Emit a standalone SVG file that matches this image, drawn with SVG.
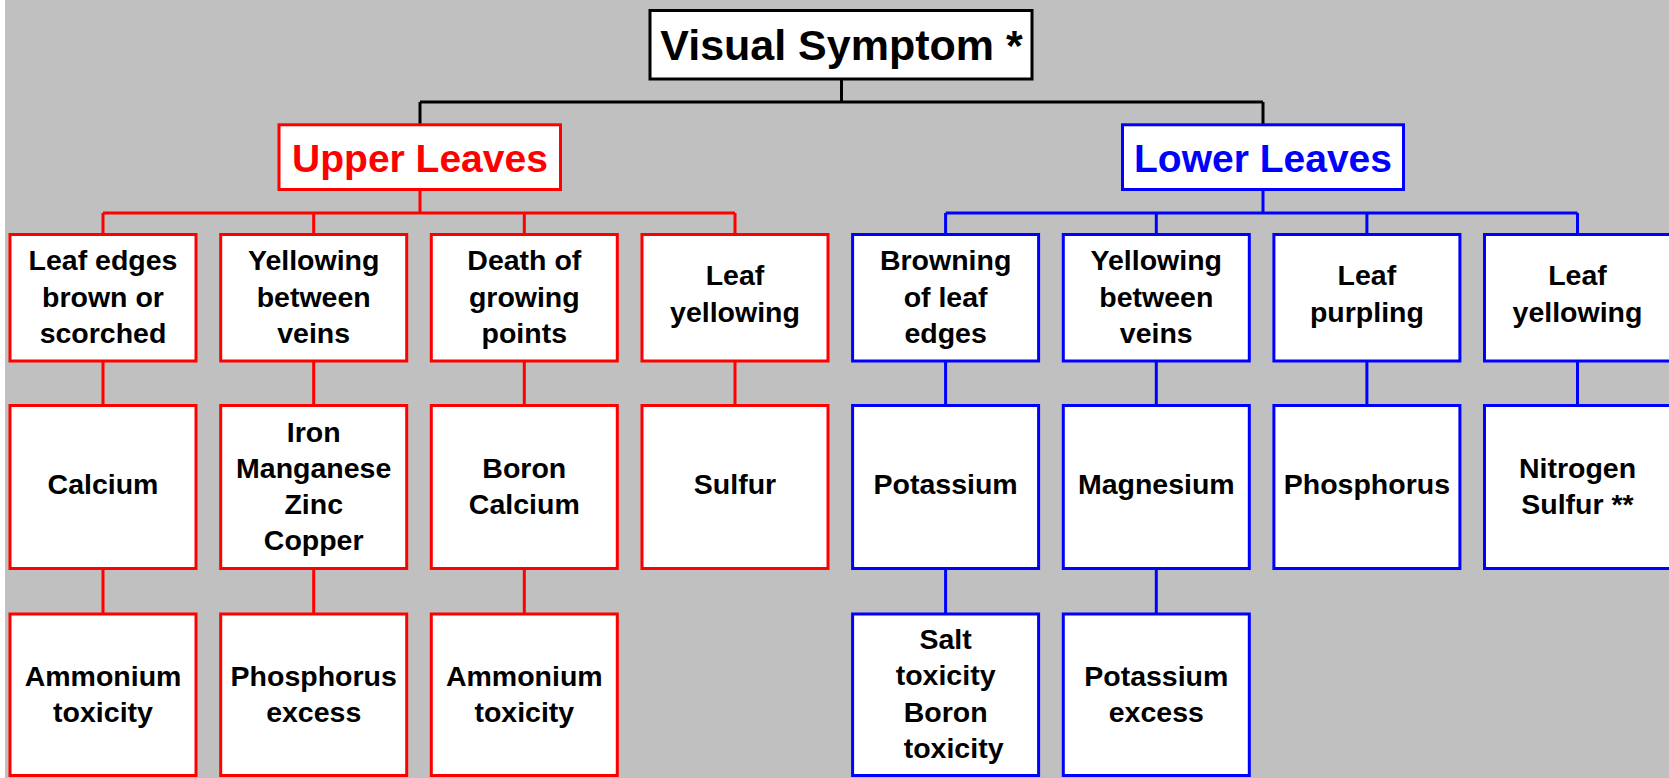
<svg xmlns="http://www.w3.org/2000/svg" width="1669" height="778" viewBox="0 0 1669 778">
<style>
.box{fill:#fff;stroke-width:3}
.r{stroke:#FF0000}
.b{stroke:#0000FF}
.k{stroke:#000}
.t{font-family:"Liberation Sans",Arial,sans-serif;font-weight:bold;font-size:28.5px;fill:#000;text-anchor:middle}
.big{font-family:"Liberation Sans",Arial,sans-serif;font-weight:bold;text-anchor:middle}
.ln{fill:none;stroke-width:3}
</style>
<rect x="0" y="0" width="1669" height="778" fill="#fff"/>
<rect x="5" y="0" width="1664" height="778" fill="#C0C0C0"/>
<g id="connectors">
<path class="ln k" d="M841.5 80V102M420 102H1263M420 102V124M1263 102V124"/>
<path class="ln r" d="M420 191V213M103 213H735M103 213V234M313.7 213V234M524.3 213V234M735 213V234"/>
<path class="ln r" d="M103 362V405M313.7 362V405M524.3 362V405M735 362V405M103 569V613M313.7 569V613M524.3 569V613"/>
<path class="ln b" d="M1263 191V213M945.6 213H1577.5M945.6 213V234M1156.3 213V234M1366.9 213V234M1577.5 213V234"/>
<path class="ln b" d="M945.6 362V405M1156.3 362V405M1366.9 362V405M1577.5 362V405M945.6 569V613M1156.3 569V613"/>
</g>
<g id="visual-symptom">
<rect class="box k" x="650" y="10.5" width="382" height="68.5"/>
<text class="big" x="841.5" y="60" font-size="43">Visual Symptom *</text>
</g>
<g id="upper-leaves">
<rect class="box r" x="279" y="124.8" width="281.5" height="64.7"/>
<text class="big" x="420" y="171.5" font-size="39" fill="#FF0000">Upper Leaves</text>
</g>
<g id="lower-leaves">
<rect class="box b" x="1122.5" y="124.8" width="281" height="64.7"/>
<text class="big" x="1263" y="171.5" font-size="39" fill="#0000FF">Lower Leaves</text>
</g>
<g id="u1">
<rect class="box r" x="10" y="234.5" width="186" height="126.5"/>
<text class="t" x="103" y="270">Leaf edges</text><text class="t" x="103" y="306.5">brown or</text><text class="t" x="103" y="343">scorched</text>
</g>
<g id="u2">
<rect class="box r" x="220.7" y="234.5" width="186" height="126.5"/>
<text class="t" x="313.7" y="270">Yellowing</text><text class="t" x="313.7" y="306.5">between</text><text class="t" x="313.7" y="343">veins</text>
</g>
<g id="u3">
<rect class="box r" x="431.3" y="234.5" width="186" height="126.5"/>
<text class="t" x="524.3" y="270">Death of</text><text class="t" x="524.3" y="306.5">growing</text><text class="t" x="524.3" y="343">points</text>
</g>
<g id="u4">
<rect class="box r" x="642" y="234.5" width="186" height="126.5"/>
<text class="t" x="735" y="285">Leaf</text><text class="t" x="735" y="321.5">yellowing</text>
</g>
<g id="l1">
<rect class="box b" x="852.6" y="234.5" width="186" height="126.5"/>
<text class="t" x="945.6" y="270">Browning</text><text class="t" x="945.6" y="306.5">of leaf</text><text class="t" x="945.6" y="343">edges</text>
</g>
<g id="l2">
<rect class="box b" x="1063.3" y="234.5" width="186" height="126.5"/>
<text class="t" x="1156.3" y="270">Yellowing</text><text class="t" x="1156.3" y="306.5">between</text><text class="t" x="1156.3" y="343">veins</text>
</g>
<g id="l3">
<rect class="box b" x="1273.9" y="234.5" width="186" height="126.5"/>
<text class="t" x="1366.9" y="285">Leaf</text><text class="t" x="1366.9" y="321.5">purpling</text>
</g>
<g id="l4">
<rect class="box b" x="1484.5" y="234.5" width="186" height="126.5"/>
<text class="t" x="1577.5" y="285">Leaf</text><text class="t" x="1577.5" y="321.5">yellowing</text>
</g>
<g id="u1b">
<rect class="box r" x="10" y="405.5" width="186" height="163"/>
<text class="t" x="103" y="494">Calcium</text>
</g>
<g id="u2b">
<rect class="box r" x="220.7" y="405.5" width="186" height="163"/>
<text class="t" x="313.7" y="441.5">Iron</text><text class="t" x="313.7" y="477.5">Manganese</text><text class="t" x="313.7" y="514">Zinc</text><text class="t" x="313.7" y="550">Copper</text>
</g>
<g id="u3b">
<rect class="box r" x="431.3" y="405.5" width="186" height="163"/>
<text class="t" x="524.3" y="477.5">Boron</text><text class="t" x="524.3" y="514">Calcium</text>
</g>
<g id="u4b">
<rect class="box r" x="642" y="405.5" width="186" height="163"/>
<text class="t" x="735" y="494">Sulfur</text>
</g>
<g id="l1b">
<rect class="box b" x="852.6" y="405.5" width="186" height="163"/>
<text class="t" x="945.6" y="494">Potassium</text>
</g>
<g id="l2b">
<rect class="box b" x="1063.3" y="405.5" width="186" height="163"/>
<text class="t" x="1156.3" y="494">Magnesium</text>
</g>
<g id="l3b">
<rect class="box b" x="1273.9" y="405.5" width="186" height="163"/>
<text class="t" x="1366.9" y="494">Phosphorus</text>
</g>
<g id="l4b">
<rect class="box b" x="1484.5" y="405.5" width="186" height="163"/>
<text class="t" x="1577.5" y="478">Nitrogen</text><text class="t" x="1577.5" y="513.5">Sulfur **</text>
</g>
<g id="u1c">
<rect class="box r" x="10" y="614" width="186" height="161.5"/>
<text class="t" x="103" y="685.5">Ammonium</text><text class="t" x="103" y="722">toxicity</text>
</g>
<g id="u2c">
<rect class="box r" x="220.7" y="614" width="186" height="161.5"/>
<text class="t" x="313.7" y="685.5">Phosphorus</text><text class="t" x="313.7" y="722">excess</text>
</g>
<g id="u3c">
<rect class="box r" x="431.3" y="614" width="186" height="161.5"/>
<text class="t" x="524.3" y="685.5">Ammonium</text><text class="t" x="524.3" y="722">toxicity</text>
</g>
<g id="l1c">
<rect class="box b" x="852.6" y="614" width="186" height="161.5"/>
<text class="t" x="945.6" y="648.5">Salt</text><text class="t" x="945.6" y="685">toxicity</text><text class="t" x="945.6" y="721.5">Boron</text><text class="t" x="953.6" y="758">toxicity</text>
</g>
<g id="l2c">
<rect class="box b" x="1063.3" y="614" width="186" height="161.5"/>
<text class="t" x="1156.3" y="685.5">Potassium</text><text class="t" x="1156.3" y="722">excess</text>
</g>
</svg>
